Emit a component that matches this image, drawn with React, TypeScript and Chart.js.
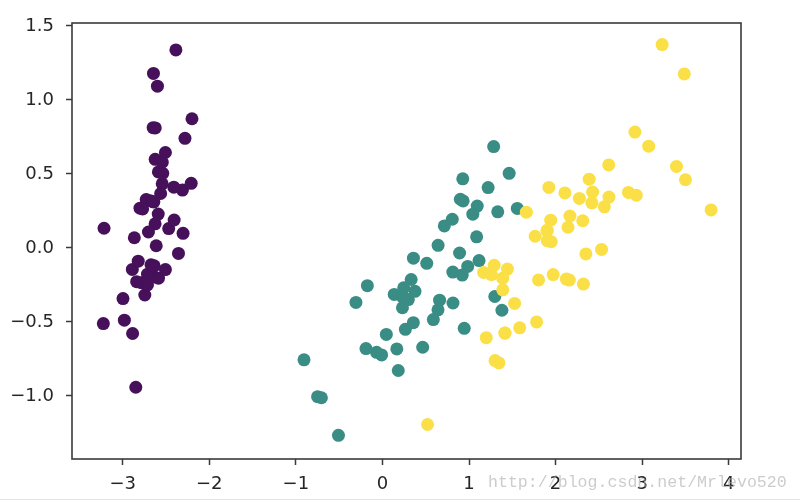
import React, { useEffect, useRef } from "react";
import { Chart, registerables } from "chart.js";

Chart.register(...registerables);

const setosa: [number, number][] = [
  [-2.684, 0.319], [-2.714, -0.177], [-2.889, -0.145], [-2.745, -0.318], [-2.729, 0.327],
  [-2.281, 0.741], [-2.821, -0.089], [-2.626, 0.163], [-2.886, -0.578], [-2.673, -0.114],
  [-2.507, 0.645], [-2.613, 0.015], [-2.786, -0.235], [-3.224, -0.511], [-2.645, 1.179],
  [-2.386, 1.338], [-2.624, 0.811], [-2.648, 0.312], [-2.2, 0.873], [-2.588, 0.514],
  [-2.31, 0.391], [-2.544, 0.433], [-3.216, 0.133], [-2.303, 0.099], [-2.356, -0.037],
  [-2.507, -0.146], [-2.469, 0.131], [-2.562, 0.368], [-2.64, 0.312], [-2.632, -0.197],
  [-2.587, -0.204], [-2.41, 0.411], [-2.649, 0.813], [-2.599, 1.093], [-2.637, -0.121],
  [-2.866, 0.069], [-2.625, 0.599], [-2.801, 0.269], [-2.981, -0.488], [-2.59, 0.229],
  [-2.77, 0.264], [-2.849, -0.941], [-2.997, -0.342], [-2.406, 0.189], [-2.209, 0.437],
  [-2.714, -0.25], [-2.538, 0.504], [-2.839, -0.228], [-2.543, 0.579], [-2.703, 0.108],
];

const versicolor: [number, number][] = [
  [1.285, 0.685], [0.932, 0.318], [1.464, 0.504], [0.183, -0.828], [1.088, 0.075],
  [0.642, -0.418], [1.095, 0.283], [-0.749, -1.005], [1.044, 0.228], [-0.009, -0.723],
  [-0.508, -1.266], [0.512, -0.104], [0.265, -0.55], [0.985, -0.125], [-0.174, -0.255],
  [0.928, 0.467], [0.66, -0.353], [0.236, -0.334], [0.945, -0.543], [0.045, -0.584],
  [1.116, -0.085], [0.358, -0.069], [1.298, -0.328], [0.922, -0.183], [0.715, 0.149],
  [0.9, 0.329], [1.332, 0.244], [1.558, 0.267], [0.813, -0.163], [-0.306, -0.368],
  [-0.068, -0.705], [-0.19, -0.68], [0.136, -0.314], [1.38, -0.421], [0.588, -0.484],
  [0.807, 0.194], [1.221, 0.408], [0.815, -0.372], [0.246, -0.269], [0.166, -0.682],
  [0.465, -0.671], [0.891, -0.034], [0.231, -0.404], [-0.705, -1.012], [0.357, -0.505],
  [0.332, -0.213], [0.376, -0.293], [0.643, 0.018], [-0.906, -0.756], [0.299, -0.349],
];

const virginica: [number, number][] = [
  [2.531, -0.01], [1.415, -0.575], [2.617, 0.344], [1.972, -0.18], [2.35, -0.04],
  [3.397, 0.551], [0.521, -1.193], [2.933, 0.356], [2.321, -0.244], [2.917, 0.783],
  [1.662, 0.242], [1.803, -0.216], [2.166, 0.216], [1.346, -0.777], [1.586, -0.54],
  [1.904, 0.119], [1.95, 0.042], [3.487, 1.176], [3.796, 0.257], [1.301, -0.761],
  [2.428, 0.378], [1.199, -0.606], [3.5, 0.461], [1.389, -0.204], [2.275, 0.335],
  [2.614, 0.561], [1.259, -0.18], [1.291, -0.117], [2.124, -0.21], [2.388, 0.465],
  [2.842, 0.375], [3.231, 1.374], [2.159, -0.217], [1.444, -0.143], [1.781, -0.5],
  [3.076, 0.688], [2.144, 0.14], [1.905, 0.049], [1.169, -0.165], [2.108, 0.372],
  [2.314, 0.184], [1.922, 0.409], [1.415, -0.575], [2.563, 0.278], [2.419, 0.305],
  [1.944, 0.188], [1.527, -0.375], [1.764, 0.079], [1.901, 0.117], [1.39, -0.283],
];

const xTicks = [-3, -2, -1, 0, 1, 2, 3, 4];
const yTicks = [-1.0, -0.5, 0.0, 0.5, 1.0, 1.5];
const watermark = "http://blog.csdn.net/Mrlevo520";

const toPts = (arr: [number, number][]) => arr.map(([x, y]) => ({ x, y }));
const fmtMinus = (s: string) => s.replace("-", "\u2212");

export default function App() {
  const ref = useRef<HTMLCanvasElement | null>(null);
  useEffect(() => {
    if (!ref.current) return;
    const framePlugin = {
      id: "frame",
      afterDraw(chart: any) {
        const { ctx, chartArea } = chart;
        ctx.save();
        ctx.strokeStyle = "#3a3a3a";
        ctx.lineWidth = 1.6;
        ctx.strokeRect(chartArea.left, chartArea.top, chartArea.right - chartArea.left, chartArea.bottom - chartArea.top);
        ctx.strokeStyle = "#e4e4e4";
        ctx.lineWidth = 1;
        ctx.beginPath();
        ctx.moveTo(0, 499.5);
        ctx.lineTo(800, 499.5);
        ctx.stroke();
        ctx.fillStyle = "rgba(170,170,170,0.6)";
        ctx.font = "16.6px 'Liberation Mono'";
        ctx.textBaseline = "alphabetic";
        ctx.textAlign = "left";
        ctx.fillText(watermark, 488, 487);
        ctx.restore();
      },
    };
    const font = { family: "'DejaVu Sans'", size: 18 };
    const chart = new Chart(ref.current, {
      type: "scatter",
      data: {
        datasets: [
          { label: "setosa", data: toPts(setosa), backgroundColor: "#46105a", order: 2 },
          { label: "versicolor", data: toPts(versicolor), backgroundColor: "#3a8d85", order: 1 },
          { label: "virginica", data: toPts(virginica), backgroundColor: "#fae046", order: 0 },
        ],
      },
      options: {
        animation: false,
        responsive: false,
        events: [],
        layout: { padding: { left: 0, top: 23, right: 59, bottom: 0 } },
        elements: { point: { radius: 6.5, borderWidth: 0, hoverRadius: 6.5 } },
        plugins: { legend: { display: false }, tooltip: { enabled: false } },
        scales: {
          x: {
            type: "linear",
            min: -3.586,
            max: 4.142,
            afterBuildTicks: (s: any) => { s.ticks = xTicks.map((v) => ({ value: v })); },
            afterFit: (s: any) => { s.height = 43; },
            grid: { display: true, drawOnChartArea: false, drawTicks: true, tickLength: 6, tickColor: "#3a3a3a", tickWidth: 1.5 },
            border: { display: false },
            ticks: { font, color: "#262626", padding: 9, maxRotation: 0, autoSkip: false, callback: (v: any) => fmtMinus(String(v)) },
          },
          y: {
            type: "linear",
            min: -1.426,
            max: 1.52,
            afterBuildTicks: (s: any) => { s.ticks = yTicks.map((v) => ({ value: v })); },
            afterFit: (s: any) => { s.width = 72; },
            grid: { display: true, drawOnChartArea: false, drawTicks: true, tickLength: 6, tickColor: "#3a3a3a", tickWidth: 1.5 },
            border: { display: false },
            ticks: { font, color: "#262626", padding: 12, autoSkip: false, callback: (v: any) => fmtMinus(Number(v).toFixed(1)) },
          },
        },
      },
      plugins: [framePlugin],
    });
    return () => chart.destroy();
  }, []);
  return (
    <div style={{ position: "fixed", left: 0, top: 0, width: 800, height: 502, background: "#fff" }}>
      <canvas ref={ref} width={800} height={502} style={{ width: 800, height: 502, display: "block" }} />
    </div>
  );
}
